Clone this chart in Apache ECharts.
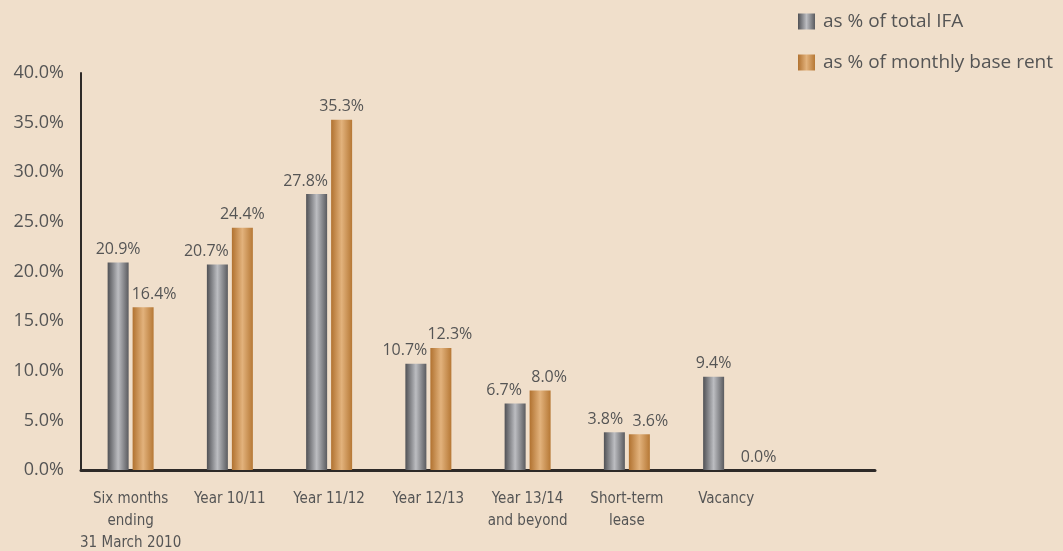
<!DOCTYPE html>
<html>
<head>
<meta charset="utf-8">
<script src="https://cdn.jsdelivr.net/npm/echarts@6/dist/echarts.min.js"></script>
<style>
  html, body { margin: 0; padding: 0; background: #f0dfcb; }
  #chart { width: 1063px; height: 551px; }
</style>
</head>
<body>
<div id="chart"></div>
<script>
// categories (last slot is empty in the original)
var categories = ['Six months\nending\n31 March 2010', 'Year 10/11', 'Year 11/12', 'Year 12/13', 'Year 13/14\nand beyond', 'Short-term\nlease', 'Vacancy', ''];
var ifaShare = [20.9, 20.7, 27.8, 10.7, 6.7, 3.8, 9.4, null];
var rentShare = [16.4, 24.4, 35.3, 12.3, 8.0, 3.6, 0.0, null];
var yTicks = [0, 5, 10, 15, 20, 25, 30, 35, 40];

var narrow = '"Liberation Sans Narrow", "DejaVu Sans Condensed", "Noto Sans", sans-serif';
var sans = '"Open Sans", "Noto Sans", sans-serif';
var textGrey = '#555555';

// bar fills - metallic look
var greyFill = new echarts.graphic.LinearGradient(0, 0, 1, 0, [
  { offset: 0, color: '#505155' },
  { offset: 0.5, color: '#bcbdc1' },
  { offset: 1, color: '#5a5b5f' }
]);
var orangeFill = new echarts.graphic.LinearGradient(0, 0, 1, 0, [
  { offset: 0, color: '#b17230' },
  { offset: 0.5, color: '#e2b27c' },
  { offset: 1, color: '#b67835' }
]);

// labels of a pair get pushed apart so they don't overlap
function labelShift(mine, other, dir) {
  if (mine == null) return 0;
  if (mine === 0) return dir * 20;
  if (mine < other || (dir > 0 && mine === other)) return dir * 11;
  if (Math.abs(mine - other) < 2.5) return dir * 9;
  return 0;
}

function buildData(values, others, dir) {
  return values.map(function (v, i) {
    return {
      value: v,
      label: { offset: [labelShift(v, others[i], dir), 0] }
    };
  });
}

var labelStyle = {
  show: true,
  position: 'top',
  distance: 5,
  color: textGrey,
  fontFamily: sans,
  fontSize: 16,
  formatter: function (p) { return p.value == null ? '' : p.value.toFixed(1) + '%'; }
};

var option = {
  backgroundColor: '#f0dfcb',
  animation: false,
  legend: {
    orient: 'vertical',
    left: 798,
    top: 12,
    padding: 0,
    icon: 'rect',
    itemWidth: 17,
    itemHeight: 16,
    itemGap: 22,
    textStyle: { color: textGrey, fontFamily: sans, fontSize: 19, lineHeight: 16, padding: [0, 0, 0, 3] },
    data: ['as % of total IFA', 'as % of monthly base rent']
  },
  grid: { left: 81, right: 188, top: 73, bottom: 81, containLabel: false, outerBoundsMode: 'none' },
  xAxis: {
    type: 'category',
    data: categories,
    axisLine: { lineStyle: { color: '#2e2a28', width: 3 } },
    axisTick: { show: false },
    axisLabel: {
      interval: 0,
      margin: 18,
      color: textGrey,
      fontFamily: narrow,
      fontSize: 15,
      lineHeight: 22
    }
  },
  yAxis: {
    type: 'value',
    min: yTicks[0],
    max: yTicks[yTicks.length - 1],
    interval: 5,
    axisLine: { show: true, lineStyle: { color: '#2e2a28', width: 2 } },
    axisTick: { show: false },
    splitLine: { show: false },
    axisLabel: {
      margin: 17,
      color: textGrey,
      fontFamily: sans,
      fontSize: 18,
      formatter: function (v) { return v.toFixed(1) + '%'; }
    }
  },
  series: [
    {
      name: 'as % of total IFA',
      type: 'bar',
      barWidth: 21,
      barGap: '19%',
      itemStyle: { color: greyFill },
      label: labelStyle,
      data: buildData(ifaShare, rentShare, -1)
    },
    {
      name: 'as % of monthly base rent',
      type: 'bar',
      barWidth: 21,
      itemStyle: { color: orangeFill },
      label: labelStyle,
      data: buildData(rentShare, ifaShare, 1)
    }
  ]
};

var chart = echarts.init(document.getElementById('chart'));
chart.setOption(option);
</script>
</body>
</html>
